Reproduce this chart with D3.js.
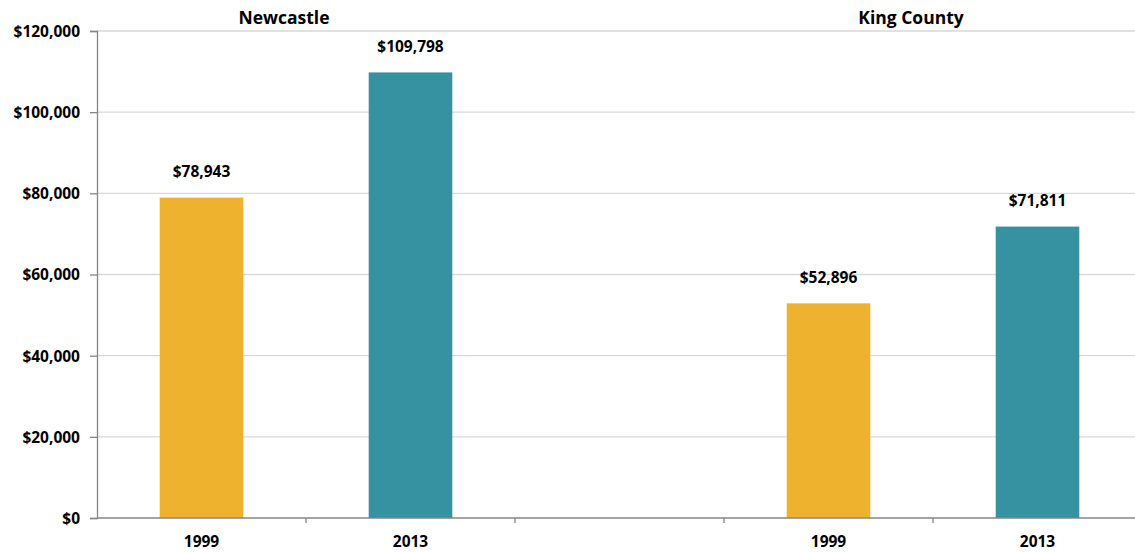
<!DOCTYPE html>
<html>
<head>
<meta charset="utf-8">
<script src="https://cdn.jsdelivr.net/npm/d3@7"></script>
<style>
  html, body { margin: 0; padding: 0; background: #fff; }
  svg text { font-family: "Open Sans", Lato, sans-serif; font-weight: bold; fill: #000; }
</style>
</head>
<body>
<svg id="chart" width="1135" height="552"></svg>
<script>
// ---- data ----
const groups = ["Newcastle", "King County"];
const years = ["1999", "2013"];
const newcastleValues = [78943, 109798];
const kingCountyValues = [52896, 71811];
const yTicks = [0, 20000, 40000, 60000, 80000, 100000, 120000];
const colors = ["#EEB22E", "#3692A0"];

// slots: two groups separated by an empty slot
const rows = [];
groups.forEach((g, gi) => {
  const vals = gi === 0 ? newcastleValues : kingCountyValues;
  years.forEach((yr, yi) => rows.push({ key: g + "|" + yr, group: g, year: yr, value: vals[yi], ci: yi }));
  if (gi === 0) rows.push({ key: "_gap", group: null, year: "", value: null });
});

const svg = d3.select("#chart");
const mLeft = 97, mRight = 1142, mTop = 31, mBottom = 518;

const x = d3.scaleBand().domain(rows.map(r => r.key)).range([mLeft, mRight])
  .paddingInner(0.6).paddingOuter(0.3);
const y = d3.scaleLinear().domain([0, 120000]).range([mBottom, mTop]);
const step = x.step();

// gridlines
svg.append("g").selectAll("line").data(yTicks.filter(t => t > 0)).join("line")
  .attr("x1", mLeft).attr("x2", 1135)
  .attr("y1", d => y(d)).attr("y2", d => y(d))
  .attr("stroke", "#d9d9d9").attr("stroke-width", 1.3);

// y axis
const fmt = d => "$" + d3.format(",")(d);
const yAxis = svg.append("g").attr("transform", `translate(${mLeft},0)`)
  .call(d3.axisLeft(y).tickValues(yTicks).tickFormat(fmt).tickSize(7).tickPadding(10));
yAxis.select(".domain").attr("stroke", "#868686").attr("stroke-width", 1.3);
yAxis.selectAll(".tick line").attr("stroke", "#868686").attr("stroke-width", 1.3);
yAxis.selectAll("text").style("font-size", "15.5px").attr("dy", "0.35em");

// bars
svg.append("g").selectAll("rect").data(rows.filter(r => r.value != null)).join("rect")
  .attr("x", d => x(d.key)).attr("width", x.bandwidth())
  .attr("y", d => y(d.value)).attr("height", d => y(0) - y(d.value))
  .attr("fill", d => colors[d.ci]);

// value labels
svg.append("g").selectAll("text").data(rows.filter(r => r.value != null)).join("text")
  .attr("x", d => x(d.key) + x.bandwidth() / 2)
  .attr("y", d => y(d.value) - 20.5)
  .attr("text-anchor", "middle").style("font-size", "15.5px")
  .text(d => fmt(d.value));

// x axis line
svg.append("line").attr("x1", mLeft).attr("x2", 1135).attr("y1", mBottom).attr("y2", mBottom)
  .attr("stroke", "#868686").attr("stroke-width", 1.3);
// x ticks at slot boundaries
const bounds = rows.map(r => x(r.key) - step * 0.3).slice(1);
svg.append("g").selectAll("line").data(bounds).join("line")
  .attr("x1", d => d).attr("x2", d => d).attr("y1", mBottom).attr("y2", mBottom + 5)
  .attr("stroke", "#868686").attr("stroke-width", 1.3);

// x labels
svg.append("g").selectAll("text").data(rows.filter(r => r.value != null)).join("text")
  .attr("x", d => x(d.key) + x.bandwidth() / 2)
  .attr("y", 547)
  .attr("text-anchor", "middle").style("font-size", "15.5px")
  .text(d => d.year);

// group titles
groups.forEach(g => {
  const k0 = g + "|" + years[0], k1 = g + "|" + years[1];
  const cx = (x(k0) + x(k1) + x.bandwidth()) / 2 - 22;
  svg.append("text").attr("x", cx).attr("y", 24)
    .attr("text-anchor", "middle").style("font-size", "17.5px").text(g);
});
</script>
</body>
</html>
